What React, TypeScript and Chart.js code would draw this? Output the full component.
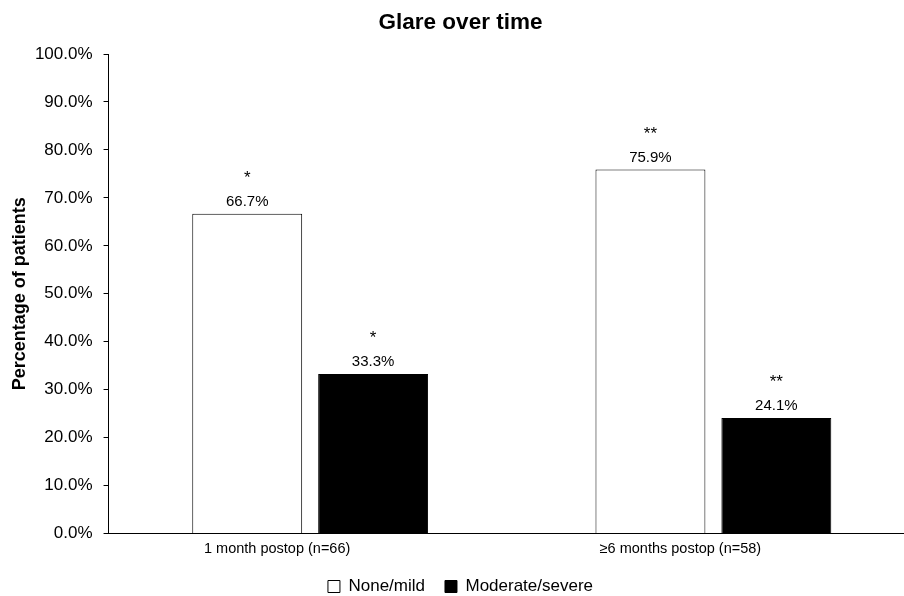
import React, { useEffect, useRef } from "react";
import { Chart, registerables } from "chart.js";

Chart.register(...registerables);

const categories = ["1 month postop (n=66)", "≥6 months postop (n=58)"];
const seriesNames = ["None/mild", "Moderate/severe"];
const noneMild = [66.7, 75.9];
const moderateSevere = [33.3, 24.1];
const noneMildSig = ["*", "**"];
const moderateSevereSig = ["*", "**"];
const yMin = 0;
const yMax = 100;
const yStep = 10;

const FONT = '"Liberation Sans", Arial, Helvetica, sans-serif';

const barLabels = {
  id: "barLabels",
  afterDatasetsDraw(chart: any) {
    const ctx = chart.ctx;
    chart.data.datasets.forEach((ds: any, di: number) => {
      const meta = chart.getDatasetMeta(di);
      meta.data.forEach((el: any, i: number) => {
        const v = ds.data[i] as number;
        ctx.save();
        ctx.fillStyle = "#000";
        ctx.textAlign = "center";
        ctx.textBaseline = "alphabetic";
        ctx.font = `15px ${FONT}`;
        ctx.fillText(v.toFixed(1) + "%", el.x, el.y - 8);
        ctx.font = `17px ${FONT}`;
        ctx.fillText(ds.sig[i], el.x, el.y - 31);
        ctx.restore();
      });
    });
  },
};

export default function App() {
  const ref = useRef<HTMLCanvasElement | null>(null);

  useEffect(() => {
    if (!ref.current) return;
    Chart.defaults.color = "#000";
    Chart.defaults.font.family = FONT;
    const chart = new Chart(ref.current, {
      type: "bar",
      data: {
        labels: categories,
        datasets: [
          {
            label: seriesNames[0],
            data: noneMild,
            backgroundColor: "#ffffff",
            borderColor: "#000000",
            borderWidth: 1,
            categoryPercentage: 0.6245,
            barPercentage: 0.873,
            sig: noneMildSig,
          } as any,
          {
            label: seriesNames[1],
            data: moderateSevere,
            backgroundColor: "#000000",
            borderColor: "#000000",
            borderWidth: 1,
            categoryPercentage: 0.6245,
            barPercentage: 0.873,
            sig: moderateSevereSig,
          } as any,
        ],
      },
      options: {
        responsive: false,
        animation: false,
        devicePixelRatio: 1,
        layout: { padding: { left: 6, right: 0, top: 0, bottom: 0 } },
        plugins: {
          title: {
            display: true,
            text: "Glare over time",
            color: "#000",
            font: { size: 22.5, weight: "bold", family: FONT },
            padding: { top: 9, bottom: 18 },
          },
          legend: {
            display: true,
            position: "bottom",
            labels: {
              boxWidth: 12,
              boxHeight: 12,
              padding: 20,
              color: "#000",
              font: { size: 17, family: FONT },
            },
          },
          tooltip: { enabled: false },
        },
        scales: {
          x: {
            grid: { display: false, drawTicks: true, tickLength: 7 },
            border: { display: true, color: "#000", width: 1 },
            ticks: {
              color: "#000",
              font: { size: 14.5, family: FONT },
              padding: 0,
              labelOffset: -33,
            },
          },
          y: {
            min: yMin,
            max: yMax,
            grid: {
              display: true,
              drawOnChartArea: false,
              drawTicks: true,
              tickLength: 5,
              color: "#000",
            },
            border: { display: true, color: "#000", width: 1 },
            ticks: {
              stepSize: yStep,
              color: "#000",
              font: { size: 17, family: FONT },
              padding: 11,
              callback: (v: any) => Number(v).toFixed(1) + "%",
            },
            title: {
              display: true,
              text: "Percentage of patients",
              color: "#000",
              font: { size: 18, weight: "bold", family: FONT },
              padding: { top: 3, bottom: -6.7 },
            },
          },
        },
      },
      plugins: [barLabels],
    });
    return () => chart.destroy();
  }, []);

  return (
    <div
      style={{
        position: "fixed",
        top: 0,
        left: 0,
        width: 904,
        height: 596,
        overflow: "hidden",
        background: "#fff",
      }}
    >
      <canvas ref={ref} width={915} height={605} style={{ width: 915, height: 605, display: "block" }} />
    </div>
  );
}
